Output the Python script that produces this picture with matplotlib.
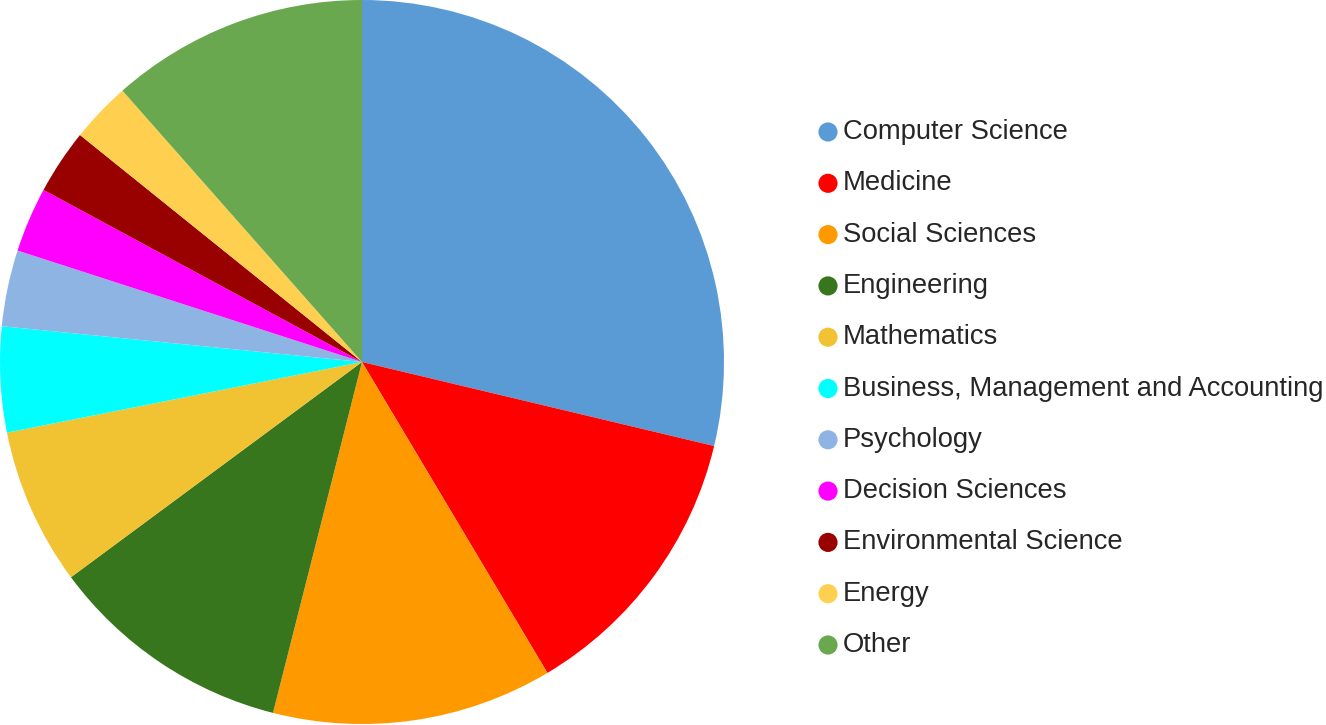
import numpy as np
import matplotlib.pyplot as plt

# subject share (percent)
subjects = ['Computer Science', 'Medicine', 'Social Sciences', 'Engineering',
            'Mathematics', 'Business, Management and Accounting', 'Psychology',
            'Decision Sciences', 'Environmental Science', 'Energy', 'Other']
shares = [28.7, 12.7, 12.5, 10.9, 7.0, 4.7, 3.4, 2.9, 2.9, 2.7, 11.5]
colors = ['#5b9bd5', '#ff0000', '#ff9900', '#38761d', '#f1c232', '#00ffff',
          '#8eb4e3', '#ff00ff', '#990000', '#ffd04f', '#6aa84f']

plt.rcParams['font.family'] = ['Liberation Sans', 'DejaVu Sans']

fig = plt.figure(figsize=(13.26, 7.25), dpi=100)

# pie
ax = fig.add_axes([0, 1 / 725, 724 / 1326, 724 / 725])
ax.pie(shares, colors=colors, startangle=90, counterclock=False,
       wedgeprops={'linewidth': 0})
ax.set_xlim(-1, 1)
ax.set_ylim(-1, 1)
ax.set_aspect('equal')
ax.axis('off')

# legend drawn by hand
leg = fig.add_axes([810 / 1326, (725 - 670.65) / 725, 516 / 1326, 564.3 / 725])
rows = np.arange(len(subjects))
leg.scatter(np.full(len(rows), 18), rows, s=190, c=colors, edgecolors='none')
for i, name in enumerate(subjects):
    leg.text(33, i, name, fontsize=19.7, color='#262626', va='center', ha='left')
leg.set_xlim(0, 516)
leg.set_ylim(len(subjects) - 0.5, -0.5)
leg.axis('off')

fig.savefig('out.png', dpi=100)
